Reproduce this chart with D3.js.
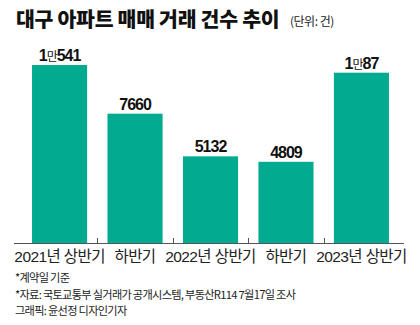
<!DOCTYPE html>
<html><head><meta charset="utf-8">
<script src="https://cdn.jsdelivr.net/npm/d3@7"></script>
<style>
html,body{margin:0;padding:0;background:#fff;}
svg{display:block;}
</style></head>
<body>
<script>
const categories = ["2021년 상반기","하반기","2022년 상반기","하반기 ","2023년 상반기"];
const axisLabels = ["2021년 상반기","하반기","2022년 상반기","하반기","2023년 상반기"];
const values = [10541, 7660, 5132, 4809, 10087];
const valueLabels = [["1","만","541"],["","","7660"],["","","5132"],["","","4809"],["1","만","87"]];
const title = "대구 아파트 매매 거래 건수 추이";
const unit = "(단위: 건)";
const notes = ["*계약일 기준","*자료: 국토교통부 실거래가 공개시스템, 부동산R114 7월17일 조사","그래픽: 윤선정 디자인기자"];

const W = 420, H = 325;
const svg = d3.select("body").append("svg").attr("width", W).attr("height", H);
const numFont = "'Liberation Sans Narrow','Liberation Sans',Arial,'Noto Sans CJK KR',sans-serif";
const korFont = "'Noto Sans CJK KR',sans-serif";

const x = d3.scaleBand().domain(categories).range([22, 399]).paddingInner(0.27).paddingOuter(0.133);
const y = d3.scaleLinear().domain([0, 12000]).range([243, 40.4]);

// title
svg.append("text").attr("x", 16).attr("y", 27)
  .attr("font-family", korFont).attr("font-weight", 900).attr("font-size", 20.5)
  .attr("letter-spacing", -0.3).attr("fill", "#111").text(title);
svg.append("text").attr("x", 290).attr("y", 26)
  .attr("font-family", korFont).attr("font-size", 12).attr("letter-spacing", -0.5)
  .attr("fill", "#222").text(unit);

// bars
svg.selectAll("rect.bar").data(values).enter().append("rect")
  .attr("class", "bar")
  .attr("x", (d, i) => x(categories[i]))
  .attr("y", d => y(d))
  .attr("width", x.bandwidth())
  .attr("height", d => y(0) - y(d))
  .attr("fill", "#02aa8f");

// value labels
values.forEach((v, i) => {
  const t = svg.append("text")
    .attr("x", x(categories[i]) + x.bandwidth() / 2)
    .attr("y", y(v) - 4)
    .attr("text-anchor", "middle")
    .attr("font-family", numFont)
    .attr("font-size", 16).attr("font-weight", 700)
    .attr("letter-spacing", -1)
    .attr("fill", "#111");
  const [a, b, c] = valueLabels[i];
  if (a) t.append("tspan").text(a);
  if (b) t.append("tspan").attr("font-size", 12).attr("font-weight", 400).attr("font-family", korFont).attr("letter-spacing", -1).text(b);
  t.append("tspan").text(c);
});

// axis line and ticks
svg.append("line").attr("x1", 14).attr("x2", 404).attr("y1", y(0) + 0.5).attr("y2", y(0) + 0.5)
  .attr("stroke", "#555").attr("stroke-width", 1);
const gap = x.step() * x.paddingInner();
categories.slice(0, -1).forEach(c => {
  const tx = Math.round(x(c) + x.bandwidth() + gap / 2) + 0.5;
  svg.append("line").attr("x1", tx).attr("x2", tx).attr("y1", y(0) - 5).attr("y2", y(0))
    .attr("stroke", "#555").attr("stroke-width", 1);
});

// x labels
categories.forEach((c, i) => {
  svg.append("text")
    .attr("x", x(c) + x.bandwidth() / 2)
    .attr("y", 262)
    .attr("text-anchor", "middle")
    .attr("font-family", numFont)
    .attr("font-size", 15.5).attr("letter-spacing", -0.6)
    .attr("fill", "#222").text(axisLabels[i]);
});

// notes
notes.forEach((n, i) => {
  svg.append("text").attr("x", 15).attr("y", 282 + i * 16.5)
    .attr("font-family", korFont).attr("font-size", 11.2).attr("letter-spacing", -0.7)
    .attr("fill", "#222").text(n);
});
</script>
</body></html>
